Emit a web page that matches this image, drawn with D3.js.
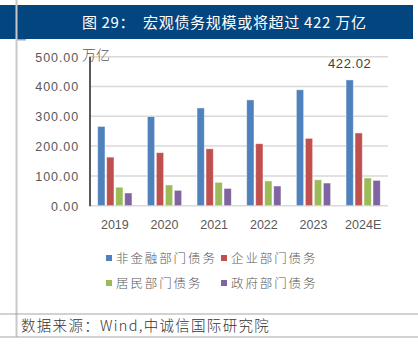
<!DOCTYPE html>
<html><head><meta charset="utf-8">
<script src="https://cdn.jsdelivr.net/npm/d3@7"></script>
<style>
html,body{margin:0;padding:0;background:#fff;}
svg{display:block;}
</style></head>
<body>
<script>
const years = ["2019","2020","2021","2022","2023","2024E"];
const seriesNames = ["非金融部门债务","企业部门债务","居民部门债务","政府部门债务"];
const nonFinancial = [266, 299, 328, 355, 389, 422.02];
const corporate = [163, 178, 191, 208, 226, 244];
const household = [62, 69.5, 78.5, 83, 87, 93];
const government = [42.6, 51.6, 58, 66, 76, 85];
const yTicks = [0, 100, 200, 300, 400, 500];
const colors = ["#4F81BD","#C0504D","#9BBB59","#8064A2"];

const W = 418, H = 357;
const svg = d3.select("body").append("svg").attr("width", W).attr("height", H);

// frame
svg.append("rect").attr("x",0).attr("y",5).attr("width",413).attr("height",34).attr("fill","#03467F");
svg.append("rect").attr("x",16).attr("y",39).attr("width",10).attr("height",1.5).attr("fill","#8EA9C8");
svg.append("line").attr("x1",16.5).attr("x2",16.5).attr("y1",0).attr("y2",337)
  .attr("stroke","#c8c8c8").attr("stroke-width",2);
svg.append("line").attr("x1",0).attr("x2",418).attr("y1",314).attr("y2",314).attr("stroke","#a6a6a6").attr("stroke-width",1.2);
svg.append("line").attr("x1",0).attr("x2",418).attr("y1",337).attr("y2",337).attr("stroke","#a6a6a6").attr("stroke-width",1.2);

svg.append("text").attr("x",82).attr("y",28).attr("fill","#fff")
  .attr("font-family","Noto Sans CJK SC").attr("font-size",15).attr("letter-spacing",0.6)
  .text("图 29：");
svg.append("text").attr("x",143).attr("y",28).attr("fill","#fff")
  .attr("font-family","Noto Sans CJK SC").attr("font-size",15).attr("letter-spacing",0.7)
  .text("宏观债务规模或将超过 422 万亿");

// scales
const y = d3.scaleLinear().domain([0,500]).range([205.7,56.7]);
const x0 = d3.scaleBand().domain(years).range([90,388]).paddingInner(0.31).paddingOuter(0.155);
const x1 = d3.scaleBand().domain(d3.range(4)).range([0,x0.bandwidth()]).paddingInner(0.19);

// grid
svg.append("g").selectAll("line").data(yTicks).join("line")
  .attr("x1",90).attr("x2",388).attr("y1",d=>y(d)).attr("y2",d=>y(d))
  .attr("stroke","#d9d9d9").attr("stroke-width",1.5);

// y axis
const yAxis = d3.axisLeft(y).tickValues(yTicks).tickSize(0).tickPadding(11).tickFormat(d=>d3.format(".2f")(d));
const gy = svg.append("g").attr("transform","translate(90,0)").call(yAxis);
gy.select(".domain").remove();
gy.selectAll("text").attr("font-family","Liberation Sans").attr("font-size",12.5)
  .attr("letter-spacing",0.9).attr("fill","#595959").attr("dy","0.35em");
svg.append("line").attr("x1",90).attr("x2",90).attr("y1",y(500)).attr("y2",y(0)+0.5)
  .attr("stroke","#595959").attr("stroke-width",2);
svg.append("text").attr("x",82).attr("y",60).attr("fill","#595959")
  .attr("font-family","Noto Sans CJK SC").attr("font-size",14).attr("font-weight",300).text("万亿");

// x axis
const xAxis = d3.axisBottom(x0).tickSize(0).tickPadding(14);
const gx = svg.append("g").attr("transform",`translate(0,${y(0)})`).call(xAxis);
gx.select(".domain").remove();
gx.selectAll("text").attr("font-family","Liberation Sans").attr("font-size",12.5).attr("fill","#595959");

// bars
const allSeries = [nonFinancial, corporate, household, government];
const groups = svg.append("g").selectAll("g").data(years).join("g")
  .attr("transform", d=>`translate(${x0(d)},0)`);
groups.selectAll("rect").data((d,i)=>allSeries.map((s,k)=>({k, v:s[i]}))).join("rect")
  .attr("x", d=>x1(d.k)).attr("width", x1.bandwidth())
  .attr("y", d=>y(d.v)).attr("height", d=>y(0)-y(d.v))
  .attr("fill", d=>colors[d.k]).attr("stroke","rgba(255,255,255,0.55)").attr("stroke-width",0.8);

// data label
const last = years.length-1;
svg.append("text").attr("x", x0(years[last]) + x1(0) + x1.bandwidth()/2).attr("y",68)
  .attr("text-anchor","middle").attr("font-family","Liberation Sans").attr("font-size",13)
  .attr("letter-spacing",0.6).attr("fill","#404040").text(d3.format(".2f")(nonFinancial[last]));

// legend
const legendPos = [[106,258],[221,258],[106,283],[221,283]];
const lg = svg.append("g").selectAll("g").data(seriesNames).join("g")
  .attr("transform",(d,i)=>`translate(${legendPos[i][0]},${legendPos[i][1]})`);
lg.append("rect").attr("x",0).attr("y",-3).attr("width",6).attr("height",6).attr("fill",(d,i)=>colors[i]);
lg.append("text").attr("x",10).attr("y",4.5).attr("fill","#595959")
  .attr("font-family","Noto Sans CJK SC").attr("font-size",12.5).attr("font-weight",300)
  .attr("letter-spacing",1.9).text(d=>d);

// source
svg.append("text").attr("x",21).attr("y",331).attr("fill","#333")
  .attr("font-family","Noto Sans CJK SC").attr("font-size",14.5).attr("font-weight",300)
  .attr("letter-spacing",1.3).text("数据来源：Wind,中诚信国际研究院");
</script>
</body></html>
